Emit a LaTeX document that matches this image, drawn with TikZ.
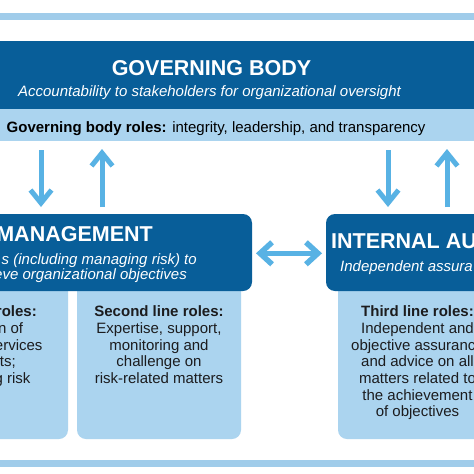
\documentclass[tikz,border=0pt]{standalone}
\usepackage{fontspec}
\setmainfont{Liberation Sans}
\usetikzlibrary{arrows.meta}
\definecolor{dkblue}{RGB}{8,94,153}
\definecolor{ltblue}{RGB}{171,212,239}
\definecolor{bandblue}{RGB}{160,204,234}
\definecolor{arrblue}{RGB}{88,178,228}
\definecolor{txt}{RGB}{28,28,30}
\tikzset{
  band/.style={fill=bandblue, inner sep=0, outer sep=0, draw=none},
  darkband/.style={fill=dkblue, inner sep=0, outer sep=0, draw=none},
  liteband/.style={fill=ltblue, inner sep=0, outer sep=0, draw=none},
  darkbox/.style={fill=dkblue, rounded corners=9pt, inner sep=0, outer sep=0, draw=none},
  litebox/.style={fill=ltblue, rounded corners=9pt, inner sep=0, outer sep=0, draw=none},
  ttl/.style={text=white, font=\bfseries\fontsize{21.5}{24}\selectfont, inner sep=0},
  subt/.style={text=white, font=\itshape\fontsize{15}{16.67}\selectfont, inner sep=0},
  roletxt/.style={text=txt, font=\fontsize{15}{16.67}\selectfont, inner sep=0},
  rolebold/.style={text=txt, font=\bfseries\fontsize{15}{16.67}\selectfont, inner sep=0},
  bigarr/.style={draw=arrblue, line width=5pt, -{Straight Barb[length=13pt,width=21pt]}},
  dblarr/.style={draw=arrblue, line width=5.5pt, {Straight Barb[length=12pt,width=22pt]}-{Straight Barb[length=12pt,width=22pt]}}
}
\begin{document}
\begin{tikzpicture}[x=1pt,y=-1pt]
\useasboundingbox (0,0) rectangle (474,474);
\fill[white] (0,0) rectangle (474,474);
\clip (0,0) rectangle (474,474);
% bands
\node[band, minimum width=474pt, minimum height=7pt] (topband) at (237,16.5) {};
\node[darkband, minimum width=474pt, minimum height=68pt] (gb) at (237,75) {};
\node[liteband, minimum width=474pt, minimum height=32pt] (gbroles) at (237,125) {};
\node[band, minimum width=474pt, minimum height=7pt] (botband) at (237,463.5) {};
% light role boxes
\node[litebox, minimum width=164pt, minimum height=159pt] (first) at (-14,359.5) {};
\node[litebox, minimum width=164pt, minimum height=159pt] (second) at (159,359.5) {};
\node[litebox, minimum width=164pt, minimum height=159pt] (third) at (420,359.5) {};
% dark boxes
\node[darkbox, minimum width=348pt, minimum height=77pt] (mgmt) at (78,252.5) {};
\node[darkbox, minimum width=174pt, minimum height=77pt] (ia) at (413,252.5) {};
% governing body texts
\node[ttl, anchor=base] (gbt) at (211.5,75) {GOVERNING BODY};
\node[subt, anchor=base] (gbs) at (209.5,96) {Accountability to stakeholders for organizational oversight};
\node[roletxt, anchor=base west, text=black] (gbr) at (6.5,132.7) {\textbf{Governing body roles:} integrity, leadership, and transparency};
% management texts
\node[ttl, anchor=base east] (mgt) at (153,241.7) {MANAGEMENT};
\node[subt, anchor=base east] (mgs1) at (197,264) {s (including managing risk) to};
\node[subt, anchor=base east] (mgs2) at (187,279.5) {eve organizational objectives};
% internal audit texts
\node[ttl, anchor=base west] (iat) at (331,248) {INTERNAL AU};
\node[subt, anchor=base west] (ias) at (340,271.5) {Independent assura};
% first line fragments
\node[rolebold, anchor=base east] (f1) at (37,316.7) {roles:};
\node[roletxt, anchor=base east] (f2) at (23.3,333.3) {n of};
\node[roletxt, anchor=base east] (f3) at (42.7,350) {ervices};
\node[roletxt, anchor=base east] (f4) at (16,366.7) {ts;};
\node[roletxt, anchor=base east] (f5) at (30.7,383.3) {g risk};
% second line
\node[rolebold, anchor=base] (s0) at (159,316.7) {Second line roles:};
\foreach \t [count=\i] in {{Expertise, support,},{monitoring and},{challenge on},{risk-related matters}}
  \node[roletxt, anchor=base] (s\i) at (159,316.7+16.67*\i) {\t};
% third line
\node[rolebold, anchor=base] (t0) at (417.5,316.7) {Third line roles:};
\node[roletxt, anchor=base] (t1) at (417.5,333.3) {Independent and};
\node[roletxt, anchor=base west] (t2) at (351,350) {objective assuranc};
\node[roletxt, anchor=base] (t3) at (417.5,366.7) {and advice on all};
\node[roletxt, anchor=base] (t4) at (417.5,383.3) {matters related to};
\node[roletxt, anchor=base] (t5) at (417.5,400) {the achievement};
\node[roletxt, anchor=base] (t6) at (417.5,416.7) {of objectives};
% arrows
\coordinate (a1s) at (41,150);  \coordinate (a1e) at (41,207);
\coordinate (a2s) at (102,207); \coordinate (a2e) at (102,149);
\coordinate (a3s) at (388,150); \coordinate (a3e) at (388,207);
\coordinate (a4s) at (447,207); \coordinate (a4e) at (447,149);
\coordinate (d1) at (256,253.3); \coordinate (d2) at (322,253.3);
\draw[bigarr] (a1s) -- (a1e);
\draw[bigarr] (a2s) -- (a2e);
\draw[bigarr] (a3s) -- (a3e);
\draw[bigarr] (a4s) -- (a4e);
\draw[dblarr] (d1) -- (d2);
\end{tikzpicture}
\end{document}
